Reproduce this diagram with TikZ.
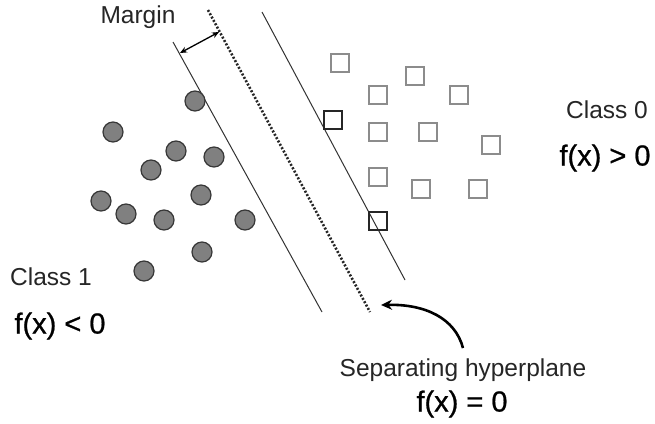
\documentclass[tikz,border=0pt]{standalone}
\usepackage{fontspec}
\setmainfont{Liberation Sans}
\newfontfamily\fxfont[FakeBold=0.8]{Liberation Sans}
\usetikzlibrary{arrows.meta}
\definecolor{ptfill}{RGB}{128,128,128}
\definecolor{ptline}{RGB}{55,55,55}
\definecolor{sqline}{RGB}{140,140,140}
\begin{document}
\begin{tikzpicture}[x=1pt,y=-1pt,
  pt/.style={circle,fill=ptfill,draw=ptline,line width=1.2pt,minimum size=20pt,inner sep=0pt},
  sq/.style={rectangle,draw=sqline,line width=1.5pt,minimum size=18pt,inner sep=0pt},
  sv/.style={sq,draw=black!85},
  lbl/.style={font=\fontsize{24.5}{28}\selectfont,inner sep=0pt,text=black!85},
  fx/.style={font=\fxfont\fontsize{29}{32}\selectfont,inner sep=0pt},
  bound/.style={line width=1pt,draw=black!80},
  hyper/.style={line width=2.6pt,draw=black!85,dash pattern=on 2pt off 1.8pt}]
\useasboundingbox[fill=white] (0,0) rectangle (655,423);
% lines
\coordinate (l1) at (173,42); \coordinate (l2) at (322,312);
\coordinate (h1) at (208,10); \coordinate (h2) at (370,312);
\coordinate (r1) at (262,12); \coordinate (r2) at (405,280);
\draw[bound] (l1) -- (l2);
\draw[hyper] (h1) -- (h2);
\draw[bound] (r1) -- (r2);
% margin arrow
\coordinate (m1) at (219,32); \coordinate (m2) at (180,53);
\draw[line width=1.3pt,{Stealth[length=7pt,width=6pt]}-{Stealth[length=7pt,width=6pt]}] (m1) -- (m2);
\node[lbl] (margin) at (138,17) {Margin};
% class 1 points
\node[pt] (c1) at (195,101) {};
\node[pt] (c2) at (113,132) {};
\node[pt] (c3) at (176,151) {};
\node[pt] (c4) at (214,157) {};
\node[pt] (c5) at (151,170) {};
\node[pt] (c6) at (101,201) {};
\node[pt] (c7) at (201,195) {};
\node[pt] (c8) at (126,214) {};
\node[pt] (c9) at (164,220) {};
\node[pt] (c10) at (245,220) {};
\node[pt] (c11) at (202,252) {};
\node[pt] (c12) at (144,271) {};
% class 0 points
\node[sq] (s1) at (340,63) {};
\node[sq] (s2) at (415,76) {};
\node[sq] (s3) at (378,95) {};
\node[sq] (s4) at (459,95) {};
\node[sv] (s5) at (333,120) {};
\node[sq] (s6) at (378,132) {};
\node[sq] (s7) at (428,132) {};
\node[sq] (s8) at (491,145) {};
\node[sq] (s9) at (378,177) {};
\node[sq] (s10) at (421,189) {};
\node[sq] (s11) at (478,189) {};
\node[sv] (s12) at (378,221) {};
% labels
\node[lbl] (cl0) at (607,110) {Class 0};
\node[fx] (f0) at (605,158) {f(x) > 0};
\node[lbl] (cl1) at (51,277) {Class 1};
\node[fx] (f1) at (60,326) {f(x) < 0};
\node[lbl] (sep) at (463,370) {Separating hyperplane};
\node[fx] (fe) at (462,404) {f(x) = 0};
% curved arrow
\coordinate (a1) at (463,348); \coordinate (a2) at (381,305);
\draw[line width=2.6pt,-{Stealth[length=11pt,width=10pt]}] (a1) .. controls (455,318) and (425,304) .. (a2);
\end{tikzpicture}
\end{document}
